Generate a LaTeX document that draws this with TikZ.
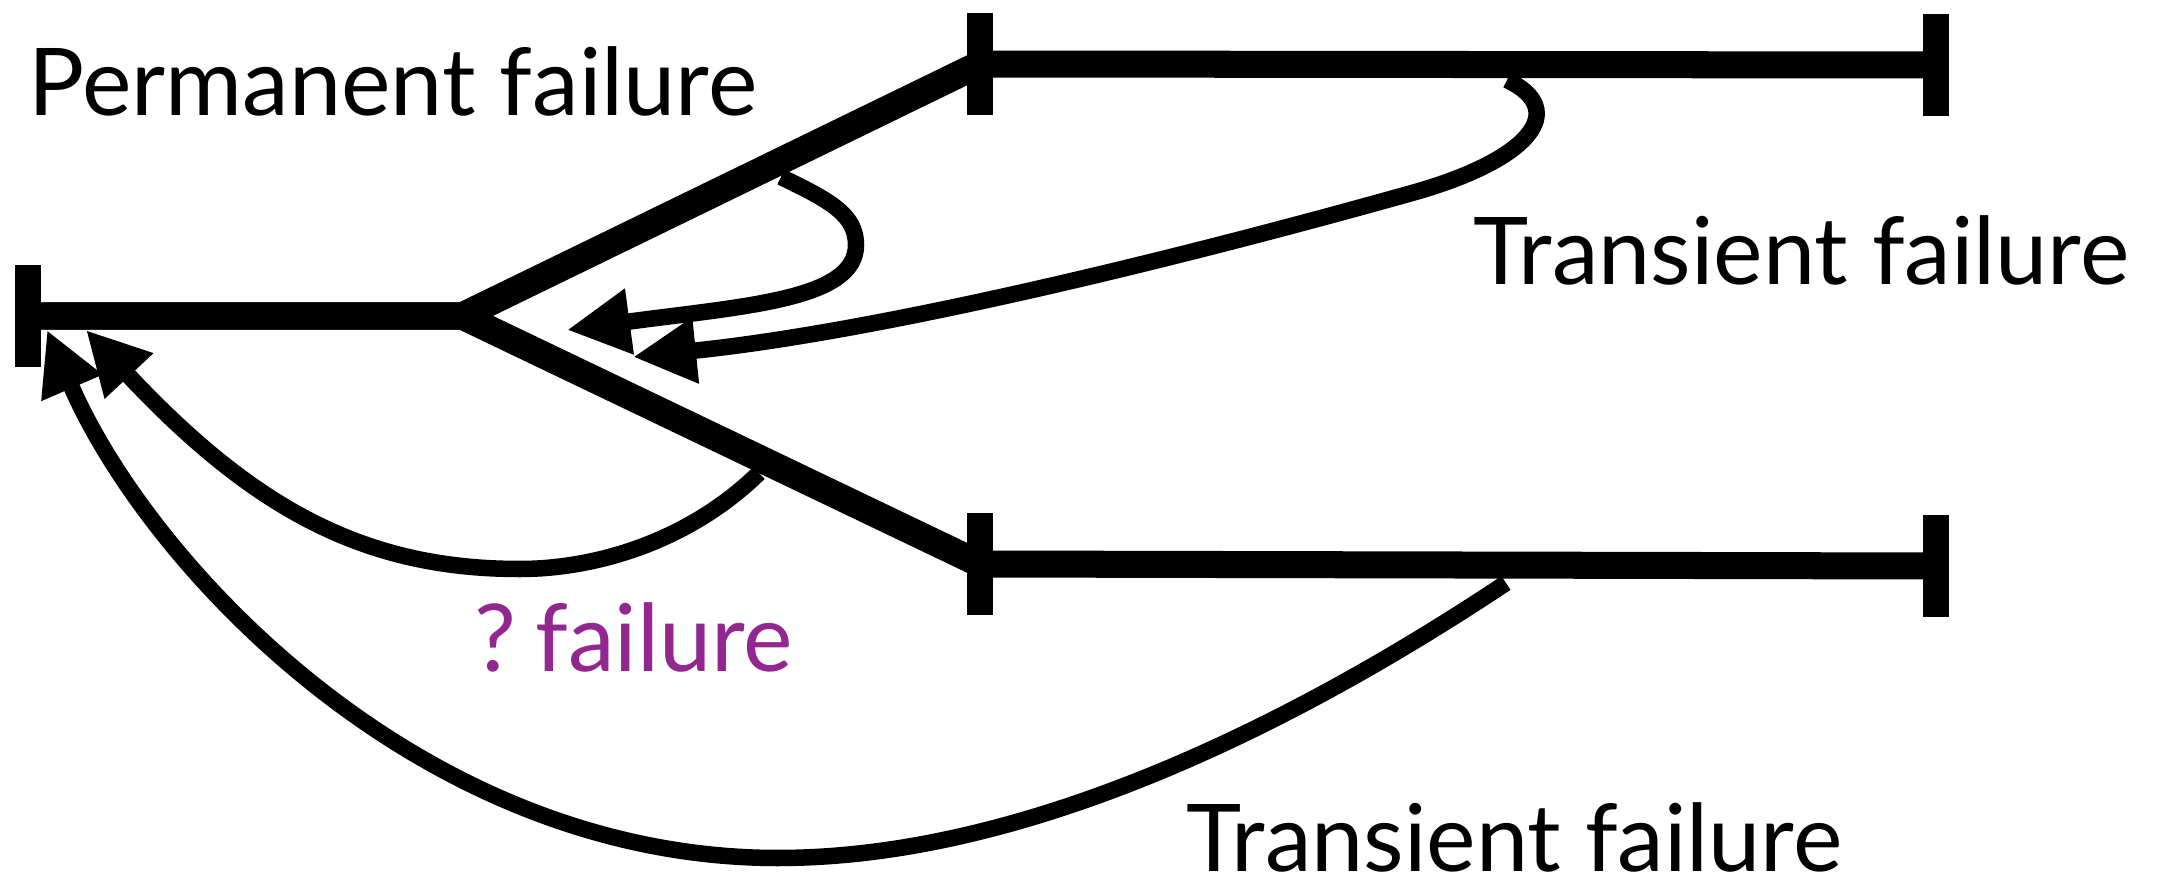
\documentclass[tikz,border=0pt]{standalone}
\usepackage{fontspec}
\setmainfont{Lato}
\usetikzlibrary{arrows.meta}
\definecolor{qpurple}{RGB}{146,39,143}
\begin{document}
\begin{tikzpicture}[x=0.01cm,y=-0.01cm,
  track/.style={line width=0.27cm},
  tickmark/.style={line width=0.26cm},
  link/.style={line width=0.165cm, -{Triangle[length=0.63cm,width=0.62cm]}},
  caption/.style={inner sep=0pt, anchor=base west, font=\fontsize{26.6}{30}\selectfont},
]
\useasboundingbox (0,0) rectangle (2162,882);

% track points
\coordinate (L)  at (28,316);
\coordinate (J)  at (462,316);
\coordinate (U)  at (980,64);
\coordinate (UR) at (1936,65);
\coordinate (D)  at (980,564);
\coordinate (DR) at (1936,566);

% thick tracks
\draw[track] (L) -- (J) -- (U);
\draw[track] (L) -- (J) -- (D);
\draw[track] (U) -- (UR);
\draw[track] (D) -- (DR);

% end ticks
\foreach \p in {L,U,UR,D,DR}
  \draw[tickmark] ([yshift=-0.51cm]\p) -- ([yshift=0.51cm]\p);

% failure arrows
\coordinate (s1) at (781,177); \coordinate (t1) at (567,330);
\coordinate (s2) at (1507,80);  \coordinate (t2) at (633,357);
\coordinate (s3) at (759,473); \coordinate (t3) at (86,330);
\coordinate (s4) at (1506,583); \coordinate (t4) at (47,330);

\draw[link] (s1) .. controls (831,201) and (856,215) .. (856,245)
                 .. controls (856,300) and (744,306) .. (t1);
\draw[link] (s2) .. controls (1570,110) and (1530,160) .. (1412,193)
                 .. controls (1162,263) and (876,332) .. (t2);
\draw[link] (s3) .. controls (685,545) and (590,569) .. (520,569)
                 .. controls (370,569) and (258,514) .. (t3);
\draw[link] (s4) .. controls (1300,720) and (1030,858) .. (778,858)
                 .. controls (418,858) and (147,562) .. (t4);

% labels
\node[caption] (perm)   at (28,116)  {Permanent failure};
\node[caption] (trans1) at (1473,285) {Transient failure};
\node[caption] (trans2) at (1186,871) {Transient failure};
\node[caption, text=qpurple] (unk) at (474,671) {\spaceskip=0.12em ? failure};
\end{tikzpicture}
\end{document}
